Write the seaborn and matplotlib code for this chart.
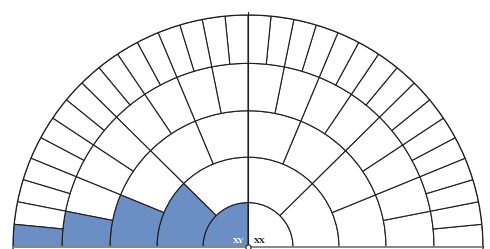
import numpy as np
import matplotlib
matplotlib.use('Agg')
import matplotlib.pyplot as plt
import seaborn as sns

# ==========================================
# data: fan chart rings (generation 0 = self)
# ==========================================
RING_COUNTS = [2, 4, 8, 16, 32]
RING_EDGES = [0, 45, 91, 138, 186, 235]
# index of the shaded (paternal) segment in each ring, counted from theta=0
PATERNAL_IDX = [1, 3, 7, 15, 31]
CENTER_LABELS = ['XX', 'XY']

BLUE = '#6b8fc4'
EDGE = '#1e1e1e'

sns.set_style('white')

W, H = 490, 249
CX, CY = 248, 2          # centre in pixels from the bottom-left
RX, RY = 235, 232        # outer radius horizontally / vertically

fig = plt.figure(figsize=(W / 100, H / 100), dpi=100)
# full polar axes, only the upper half lands inside the figure
ax = fig.add_axes([(CX - RX) / W, (CY - RY) / H, 2 * RX / W, 2 * RY / H], projection='polar')
ax.set_aspect('auto')

for gen, n in enumerate(RING_COUNTS):
    width = np.pi / n
    theta = np.arange(n) * width + width / 2
    inner = RING_EDGES[gen]
    height = RING_EDGES[gen + 1] - inner
    colors = ['white'] * n
    colors[PATERNAL_IDX[gen]] = BLUE
    ax.bar(theta, height, width=width, bottom=inner, color=colors,
           edgecolor=EDGE, linewidth=0.8, align='center')

# baseline
ax.plot([0, 0], [0, RING_EDGES[-1]], color='#8a8a8a', lw=1.3, zorder=4)
ax.plot([np.pi, np.pi], [0, RING_EDGES[-1]], color='#8a8a8a', lw=1.3, zorder=4)

# vertical centre line sticking out a little above the outer ring
ax.plot([np.pi / 2, np.pi / 2], [0, 238], color=EDGE, lw=0.8, clip_on=False)
ax.scatter([np.pi / 2], [0], s=14, facecolor='white', edgecolor=EDGE,
           linewidth=0.8, zorder=5, clip_on=False)

ax.text(np.deg2rad(28), 13, CENTER_LABELS[0], fontsize=5.5, fontweight='bold',
        family='DejaVu Serif', color='#222222', ha='center', va='center')
ax.text(np.deg2rad(146), 11, CENTER_LABELS[1], fontsize=5.5, fontweight='bold',
        family='DejaVu Serif', color='white', ha='center', va='center')

ax.set_rmax(RING_EDGES[-1])
ax.set_rmin(0)
ax.grid(False)
ax.set_xticks([])
ax.set_yticks([])
ax.spines['polar'].set_color(EDGE)
ax.spines['polar'].set_linewidth(0.9)

plt.savefig('out.png', dpi=100)
